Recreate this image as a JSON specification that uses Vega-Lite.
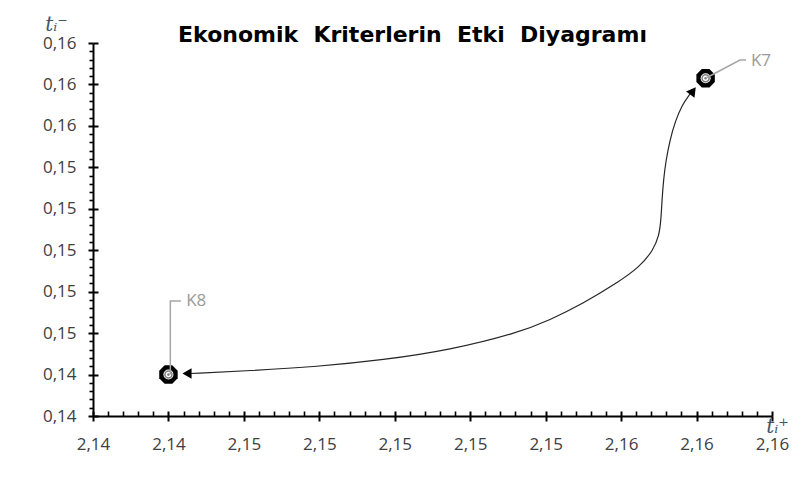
{
  "$schema": "https://vega.github.io/schema/vega-lite/v6.json",
  "width": 679,
  "height": 373,
  "autosize": "none",
  "padding": {"left": 93, "top": 43, "right": 32, "bottom": 70},
  "background": "white",
  "config": {"view": {"stroke": null}, "font": "Open Sans"},
  "title": {
    "text": "Ekonomik\u00a0\u00a0Kriterlerin\u00a0\u00a0Etki\u00a0\u00a0Diyagramı",
    "font": "DejaVu Sans",
    "fontSize": 22,
    "fontWeight": "bold",
    "color": "#000000",
    "anchor": "middle",
    "dx": -20,
    "dy": 33,
    "offset": 0
  },
  "datasets": {
    "curve": [
      {"o": 1, "x": 2.144571, "y": 0.144051},
      {"o": 2, "x": 2.146162, "y": 0.144186},
      {"o": 3, "x": 2.14793, "y": 0.144379},
      {"o": 4, "x": 2.149696, "y": 0.144702},
      {"o": 5, "x": 2.151464, "y": 0.145185},
      {"o": 6, "x": 2.153232, "y": 0.145991},
      {"o": 7, "x": 2.154115, "y": 0.146633},
      {"o": 8, "x": 2.154998, "y": 0.147439},
      {"o": 9, "x": 2.155883, "y": 0.148404},
      {"o": 10, "x": 2.156501, "y": 0.149205},
      {"o": 11, "x": 2.156853, "y": 0.150011},
      {"o": 12, "x": 2.157004, "y": 0.150686},
      {"o": 13, "x": 2.157057, "y": 0.151458},
      {"o": 14, "x": 2.157084, "y": 0.152424},
      {"o": 15, "x": 2.157124, "y": 0.153389},
      {"o": 16, "x": 2.15719, "y": 0.154354},
      {"o": 17, "x": 2.157296, "y": 0.155319},
      {"o": 18, "x": 2.157429, "y": 0.156188},
      {"o": 19, "x": 2.157614, "y": 0.157008},
      {"o": 20, "x": 2.157826, "y": 0.157539}
    ],
    "points": [
      {"name": "K8", "x": 2.144, "y": 0.144},
      {"name": "K7", "x": 2.15824, "y": 0.1583}
    ],
    "arrows": [
      {"x": 2.144492, "y": 0.144051, "shape": "triangle-left", "angle": 0},
      {"x": 2.157906, "y": 0.157684, "shape": "triangle-up", "angle": 37}
    ],
    "leaders": [
      {"name": "K8", "o": 0, "x": 2.14405, "y": 0.144},
      {"name": "K8", "o": 1, "x": 2.14405, "y": 0.14755},
      {"name": "K8", "o": 2, "x": 2.14433, "y": 0.14755},
      {"name": "K7", "o": 0, "x": 2.15824, "y": 0.1583},
      {"name": "K7", "o": 1, "x": 2.15915, "y": 0.15918},
      {"name": "K7", "o": 2, "x": 2.15931, "y": 0.15918}
    ],
    "labels": [
      {"name": "K8", "x": 2.14447, "y": 0.14755},
      {"name": "K7", "x": 2.15944, "y": 0.15915}
    ]
  },
  "layer": [
    {
      "data": {"name": "curve"},
      "mark": {"type": "line", "interpolate": "basis", "color": "#262626", "strokeWidth": 1.2},
      "encoding": {
        "x": {
          "field": "x", "type": "quantitative",
          "scale": {"domain": [2.142, 2.16], "nice": false, "zero": false},
          "axis": {
            "orient": "bottom",
            "grid": false,
            "values": [2.142, 2.1424, 2.1428, 2.1432, 2.1436, 2.144, 2.1444, 2.1448, 2.1452, 2.1456, 2.146, 2.1464, 2.1468, 2.1472, 2.1476, 2.148, 2.1484, 2.1488, 2.1492, 2.1496, 2.15, 2.1504, 2.1508, 2.1512, 2.1516, 2.152, 2.1524, 2.1528, 2.1532, 2.1536, 2.154, 2.1544, 2.1548, 2.1552, 2.1556, 2.156, 2.1564, 2.1568, 2.1572, 2.1576, 2.158, 2.1584, 2.1588, 2.1592, 2.1596, 2.16],
            "labelExpr": "abs(round((datum.value-2.142)/0.0004)) % 5 == 0 ? replace(format(datum.value, '.2f'), '.', ',') : ''",
            "tickSize": {"condition": {"test": "abs(round((datum.value-2.142)/0.0004)) % 5 == 0", "value": 5}, "value": -5},
            "tickWidth": {"condition": {"test": "abs(round((datum.value-2.142)/0.0004)) % 5 == 0", "value": 2}, "value": 1.6},
            "tickColor": "#000000",
            "domainColor": "#000000",
            "domainWidth": 2,
            "labelFont": "Open Sans",
            "labelFontSize": 17,
            "labelColor": "#404040",
            "labelPadding": 15,
            "labelFlush": false,
            "labelOverlap": false,
            "labelBound": false,
            "title": "tᵢ⁺",
            "titleFont": "DejaVu Serif",
            "titleFontStyle": "italic",
            "titleFontWeight": "normal",
            "titleFontSize": 20,
            "titleColor": "#44546A",
            "titleX": 684,
            "titleY": 16,
            "titleAlign": "center",
            "titleBaseline": "alphabetic"
          }
        },
        "y": {
          "field": "y", "type": "quantitative",
          "scale": {"domain": [0.142, 0.16], "nice": false, "zero": false},
          "axis": {
            "orient": "left",
            "grid": false,
            "values": [0.142, 0.1424, 0.1428, 0.1432, 0.1436, 0.144, 0.1444, 0.1448, 0.1452, 0.1456, 0.146, 0.1464, 0.1468, 0.1472, 0.1476, 0.148, 0.1484, 0.1488, 0.1492, 0.1496, 0.15, 0.1504, 0.1508, 0.1512, 0.1516, 0.152, 0.1524, 0.1528, 0.1532, 0.1536, 0.154, 0.1544, 0.1548, 0.1552, 0.1556, 0.156, 0.1564, 0.1568, 0.1572, 0.1576, 0.158, 0.1584, 0.1588, 0.1592, 0.1596, 0.16],
            "labelExpr": "abs(round((datum.value-0.142)/0.0004)) % 5 == 0 ? replace(format(datum.value, '.2f'), '.', ',') : ''",
            "tickSize": {"condition": {"test": "abs(round((datum.value-0.142)/0.0004)) % 5 == 0", "value": 5}, "value": 4},
            "tickWidth": {"condition": {"test": "abs(round((datum.value-0.142)/0.0004)) % 5 == 0", "value": 2}, "value": 1.6},
            "tickColor": "#000000",
            "domainColor": "#000000",
            "domainWidth": 2,
            "labelFont": "Open Sans",
            "labelFontSize": 17,
            "labelColor": "#404040",
            "labelPadding": 12,
            "labelFlush": false,
            "labelOverlap": false,
            "labelBound": false,
            "title": "tᵢ⁻",
            "titleFont": "DejaVu Serif",
            "titleFontStyle": "italic",
            "titleFontWeight": "normal",
            "titleFontSize": 20,
            "titleColor": "#44546A",
            "titleAngle": 0,
            "titleX": -37,
            "titleY": -13,
            "titleAlign": "center",
            "titleBaseline": "alphabetic"
          }
        },
        "order": {"field": "o", "type": "quantitative"}
      }
    },
    {
      "data": {"name": "points"},
      "mark": {"type": "point", "filled": true, "opacity": 1, "color": "#000000", "size": 340,
        "shape": "M-1,-0.414L-0.414,-1L0.414,-1L1,-0.414L1,0.414L0.414,1L-0.414,1L-1,0.414Z"},
      "encoding": {
        "x": {
          "field": "x", "type": "quantitative",
          "axis": {"orient": "bottom", "grid": false, "values": [2.142, 2.144, 2.146, 2.148, 2.15, 2.152, 2.154, 2.156, 2.158, 2.16],
            "tickSize": -5, "tickWidth": 2, "tickColor": "#000000", "labels": false, "domain": false, "title": null}
        },
        "y": {
          "field": "y", "type": "quantitative",
          "axis": {"orient": "left", "grid": false, "values": [0.142, 0.144, 0.146, 0.148, 0.15, 0.152, 0.154, 0.156, 0.158, 0.16],
            "tickSize": -5, "tickWidth": 2, "tickColor": "#000000", "labels": false, "domain": false, "title": null}
        }
      }
    },
    {
      "data": {"name": "points"},
      "mark": {"type": "point", "filled": true, "opacity": 1, "color": "#ffffff", "size": 100, "shape": "circle"},
      "encoding": {
        "x": {"field": "x", "type": "quantitative", "axis": null},
        "y": {"field": "y", "type": "quantitative", "axis": null}
      }
    },
    {
      "data": {"name": "points"},
      "mark": {"type": "point", "filled": false, "opacity": 1, "fill": "#ffffff", "stroke": "#7f7f7f", "strokeWidth": 1.5, "size": 50, "shape": "circle"},
      "encoding": {
        "x": {"field": "x", "type": "quantitative", "axis": null},
        "y": {"field": "y", "type": "quantitative", "axis": null}
      }
    },
    {
      "data": {"name": "points"},
      "mark": {"type": "point", "filled": true, "opacity": 1, "color": "#7f7f7f", "size": 7, "shape": "circle"},
      "encoding": {
        "x": {"field": "x", "type": "quantitative", "axis": null},
        "y": {"field": "y", "type": "quantitative", "axis": null}
      }
    },
    {
      "data": {"name": "arrows"},
      "mark": {"type": "point", "filled": true, "opacity": 1, "color": "#000000", "size": 110},
      "encoding": {
        "x": {"field": "x", "type": "quantitative", "axis": null},
        "y": {"field": "y", "type": "quantitative", "axis": null},
        "shape": {"field": "shape", "type": "nominal", "scale": null, "legend": null},
        "angle": {"field": "angle", "type": "quantitative", "scale": null}
      }
    },
    {
      "data": {"name": "leaders"},
      "mark": {"type": "line", "color": "#a6a6a6", "strokeWidth": 1.5},
      "encoding": {
        "x": {"field": "x", "type": "quantitative", "axis": null},
        "y": {"field": "y", "type": "quantitative", "axis": null},
        "detail": {"field": "name", "type": "nominal"},
        "order": {"field": "o", "type": "quantitative"}
      }
    },
    {
      "data": {"name": "labels"},
      "mark": {"type": "text", "align": "left", "baseline": "middle", "font": "Open Sans", "fontSize": 17, "color": "#9a9a9a"},
      "encoding": {
        "x": {"field": "x", "type": "quantitative", "axis": null},
        "y": {"field": "y", "type": "quantitative", "axis": null},
        "text": {"field": "name", "type": "nominal"}
      }
    }
  ],
  "resolve": {"axis": {"x": "independent", "y": "independent"}}
}
